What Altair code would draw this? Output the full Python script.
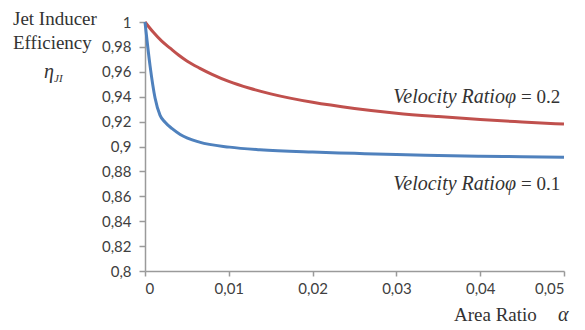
import altair as alt
import pandas as pd

# ---- data ----
alpha_red = [0, 0.001, 0.002, 0.003, 0.004, 0.005, 0.0065, 0.008, 0.01, 0.0125,
             0.015, 0.02, 0.025, 0.03, 0.035, 0.04, 0.045, 0.05]
eff_phi_02 = [1.0, 0.9917, 0.9846, 0.979, 0.9735, 0.9687, 0.963, 0.958, 0.9523, 0.9468,
              0.9423, 0.9355, 0.9306, 0.9268, 0.924, 0.9216, 0.9197, 0.918]
alpha_blue = [0, 0.0006, 0.0012, 0.0018, 0.0024, 0.0032, 0.0042, 0.0065, 0.0101, 0.0137,
              0.02, 0.025, 0.03, 0.035, 0.04, 0.045, 0.05]
eff_phi_01 = [1.0, 0.965, 0.939, 0.925, 0.9195, 0.9145, 0.9097, 0.9035, 0.8995, 0.8974,
              0.8955, 0.8945, 0.8935, 0.8928, 0.8922, 0.8918, 0.8914]
series_names = ["phi=0.2", "phi=0.1"]
series_colors = ["#C0504D", "#4F81BD"]
y_ticks = [0.8, 0.82, 0.84, 0.86, 0.88, 0.9, 0.92, 0.94, 0.96, 0.98, 1.0]
x_ticks = [0, 0.01, 0.02, 0.03, 0.04, 0.05]

rows = []
for name, xs, ys in zip(series_names, [alpha_red, alpha_blue], [eff_phi_02, eff_phi_01]):
    for xv, yv in zip(xs, ys):
        rows.append({"alpha": xv, "eta": yv, "series": name})
df = pd.DataFrame(rows)

W, H = 419, 249
SERIF = "Liberation Serif"
SANS = "Lato"
LABEL_EXPR = "replace(format(datum.value, '.2~f'), '.', ',')"

lines = alt.Chart(df).mark_line(strokeWidth=3, interpolate="monotone").encode(
    x=alt.X("alpha:Q", scale=alt.Scale(domain=[0, 0.05], nice=False),
            axis=alt.Axis(values=x_ticks, title=None, grid=False, labelExpr=LABEL_EXPR,
                          labelFont=SANS, labelFontSize=15, labelColor="#404040",
                          domainColor="#9a9a9a", tickColor="#9a9a9a", tickSize=5,
                          labelPadding=5, domainWidth=1.5, tickWidth=1.5)),
    y=alt.Y("eta:Q", scale=alt.Scale(domain=[0.8, 1.0], nice=False, zero=False),
            axis=alt.Axis(values=y_ticks, title=None, grid=False, labelExpr=LABEL_EXPR,
                          labelFont=SANS, labelFontSize=15, labelColor="#404040",
                          domainColor="#9a9a9a", tickColor="#9a9a9a", tickSize=6,
                          labelPadding=8, domainWidth=1.5, tickWidth=1.5)),
    color=alt.Color("series:N", scale=alt.Scale(domain=series_names, range=series_colors),
                    legend=None),
    detail="series:N",
)


def label(text, x, y, size=19, style="normal", align="left", font=SERIF):
    return alt.Chart(pd.DataFrame({"t": [text]})).mark_text(
        font=font, fontSize=size, fontStyle=style, align=align, baseline="alphabetic",
        color="#333333",
    ).encode(x=alt.value(x), y=alt.value(y), text="t:N")


texts = [
    label("Jet Inducer", -132, 3),
    label("Efficiency", -132, 27),
    label("η", -101, 56, size=20, style="italic"),
    label("JI", -91, 60, size=11, style="italic"),
    label("Velocity Ratioφ", 371, 81, size=20, style="italic", align="right"),
    label("= 0.2", 376, 81),
    label("Velocity Ratioφ", 371, 168, size=20, style="italic", align="right"),
    label("= 0.1", 376, 168),
    label("Area Ratio", 309, 299),
    label("α", 413, 299, size=20, style="italic"),
]

chart = alt.layer(lines, *texts).properties(
    width=W, height=H,
    autosize=alt.AutoSizeParams(type="none"),
    padding={"left": 137, "top": 14, "right": 12, "bottom": 56},
).configure_view(stroke=None)

chart.save("out.html", embed_options={"renderer": "svg", "actions": False})
